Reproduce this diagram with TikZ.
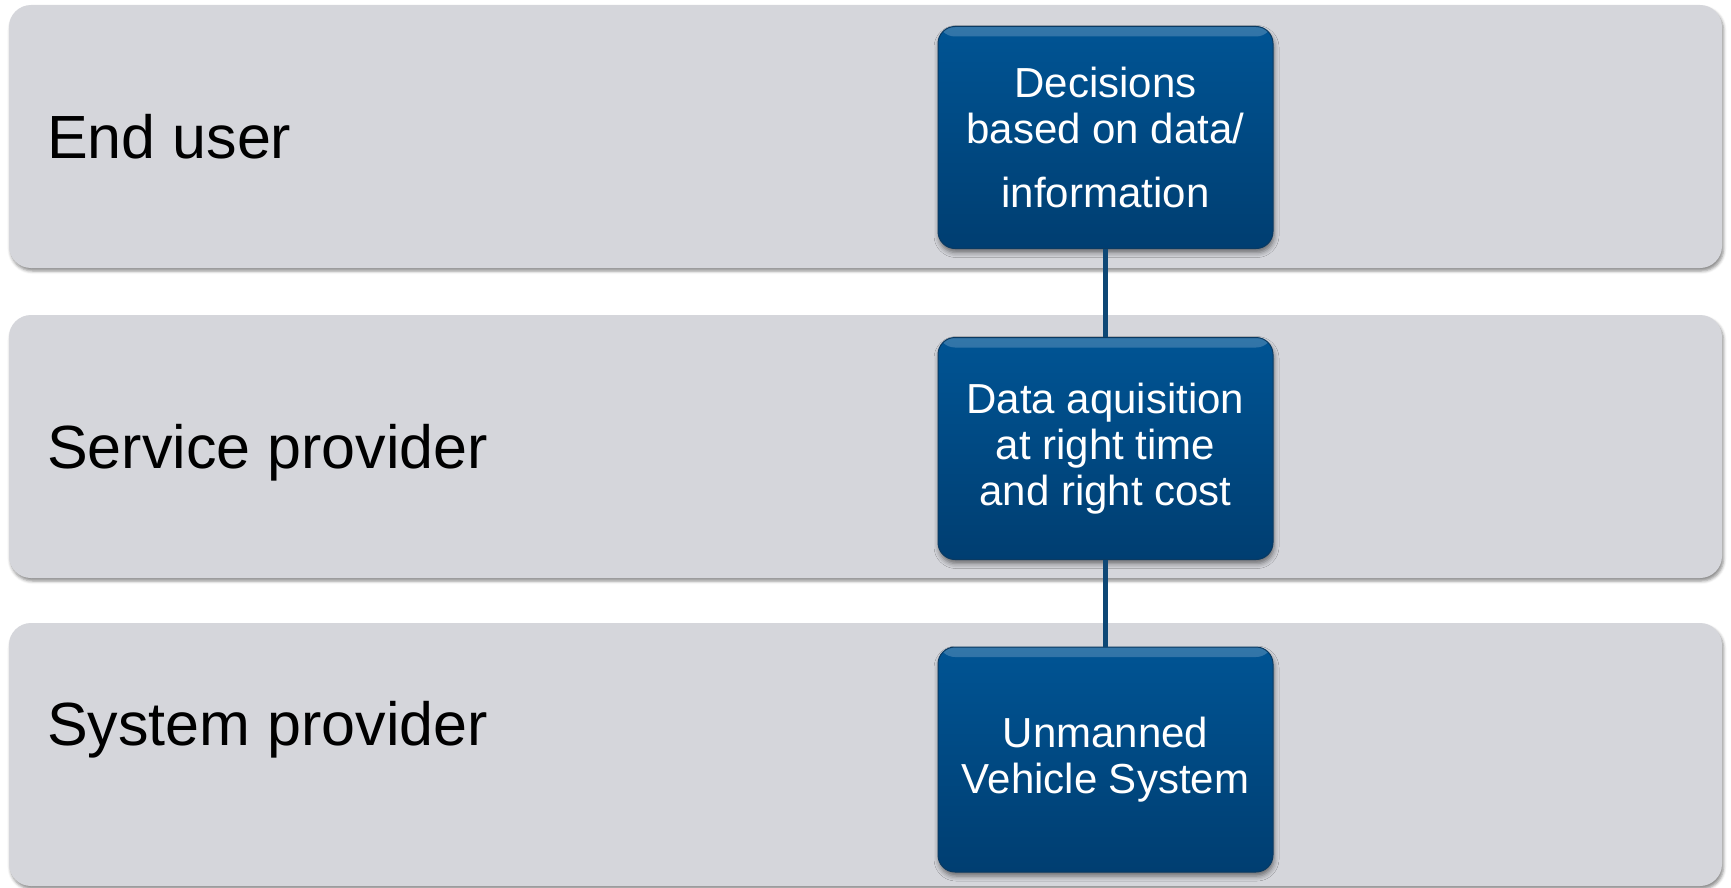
\documentclass[tikz,border=0pt]{standalone}
\usepackage{fontspec}
\setmainfont{Liberation Sans}
\usetikzlibrary{shadows.blur}

\definecolor{bandgray}{RGB}{213,214,219}
\definecolor{boxtop}{RGB}{0,84,148}
\definecolor{boxbot}{RGB}{0,62,113}
\definecolor{boxedge}{RGB}{10,58,98}
\definecolor{linkblue}{RGB}{14,72,118}

\begin{document}
\begin{tikzpicture}[x=1pt,y=-1pt,
  band/.style={rectangle, rounded corners=22pt, fill=bandgray,
    minimum width=1713pt, minimum height=263pt, inner sep=0pt,
    blur shadow={shadow xshift=1.5pt, shadow yshift=-3pt,
      shadow blur radius=3pt, shadow opacity=45}},
  tier/.style={anchor=base west, inner sep=0pt, text=black,
    font=\fontsize{61}{70}\selectfont},
  stage/.style={rectangle, rounded corners=17pt,
    top color=boxtop, bottom color=boxbot, draw=boxedge, line width=1pt,
    minimum width=335pt, minimum height=222pt, inner sep=0pt,
    align=center, text=white, font=\fontsize{42}{46}\selectfont,
    blur shadow={shadow xshift=1pt, shadow yshift=-4pt,
      shadow blur radius=5pt, shadow opacity=50},
    path picture={\shade[top color=white!45!boxtop, bottom color=boxtop,
      opacity=0.45]
      (path picture bounding box.north west) rectangle
      ([yshift=-10pt]path picture bounding box.north east);}},
  link/.style={draw=linkblue, line width=4.2pt}
]
\useasboundingbox (0,0) rectangle (1731,888);

% three horizontal tiers
\node[band] (b1) at (865.5,136.5) {};
\node[band] (b2) at (865.5,446.5) {};
\node[band] (b3) at (865.5,754.5) {};

\node[tier] (t1) at (47,158) {End user};
\node[tier] (t2) at (47,468) {Service provider};
\node[tier] (t3) at (47,745) {System provider};

% stage boxes
\node[stage] (s1) at (1105.5,137.5) {Decisions\\based on data/\\[18pt]information};
\node[stage] (s2) at (1105.5,448.5) {Data aquisition\\at right time\\and right cost};
\node[stage, minimum height=225pt] (s3) at (1105.5,759.5) {Unmanned\\Vehicle System};

% connectors between the stages
\draw[link] (s1.south) -- (s2.north);
\draw[link] (s2.south) -- (s3.north);
\end{tikzpicture}
\end{document}
